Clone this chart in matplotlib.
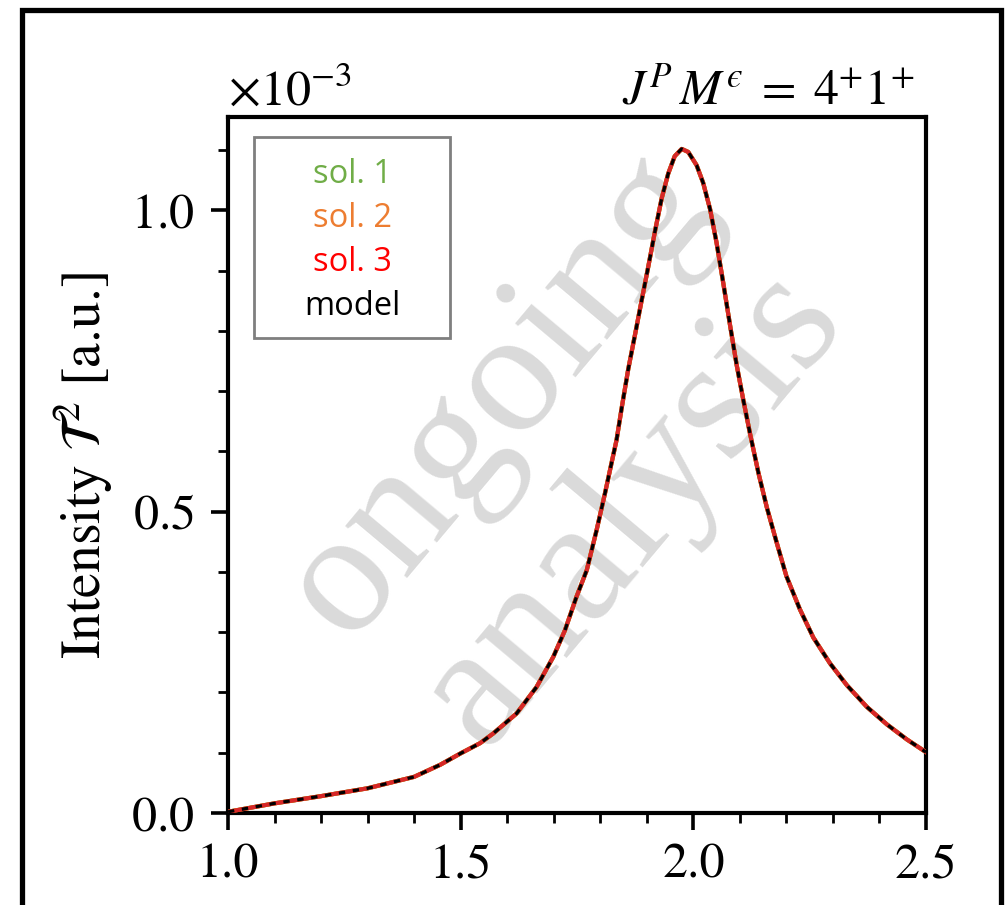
import matplotlib
matplotlib.use("Agg")
import matplotlib.pyplot as plt
from matplotlib.patches import Rectangle
from matplotlib.ticker import MultipleLocator, ScalarFormatter, FormatStrFormatter

# ---- data (intensity in units of 1e-3) ----
mass = [1.000, 1.100, 1.200, 1.300, 1.400, 1.456, 1.500, 1.542, 1.570, 1.620,
        1.663, 1.699, 1.724, 1.749, 1.771, 1.792, 1.810, 1.824, 1.835, 1.846,
        1.860, 1.875, 1.889, 1.903, 1.918, 1.932, 1.946, 1.960, 1.975, 1.989,
        2.007, 2.021, 2.036, 2.050, 2.064, 2.079, 2.093, 2.107, 2.122, 2.140,
        2.158, 2.179, 2.200, 2.229, 2.258, 2.294, 2.330, 2.373, 2.416, 2.459,
        2.500]
model = [0.002, 0.016, 0.028, 0.041, 0.060, 0.080, 0.099, 0.116, 0.132, 0.165,
         0.209, 0.259, 0.303, 0.359, 0.403, 0.469, 0.530, 0.580, 0.619, 0.672,
         0.736, 0.795, 0.851, 0.906, 0.967, 1.020, 1.061, 1.090, 1.102, 1.097,
         1.075, 1.046, 1.002, 0.946, 0.881, 0.809, 0.744, 0.687, 0.629, 0.564,
         0.507, 0.449, 0.393, 0.338, 0.291, 0.248, 0.212, 0.176, 0.147, 0.122,
         0.101]
sol1 = list(model)
sol2 = list(model)
sol3 = list(model)
scale = 1e-3

labels = ["sol. 1", "sol. 2", "sol. 3", "model"]
label_colors = ["#70ad47", "#ed7d31", "#ff0000", "#000000"]
title = r"$J^P\, M^{ϵ}\;=\;4^{+}1^{+}$"
ylabel = r"Intensity $\mathcal{T}^2$ [a.u.]"
watermark = "ongoing\nanalysis"

plt.rcParams["font.family"] = ["STIXGeneral", "DejaVu Sans"]
plt.rcParams["mathtext.fontset"] = "stix"

fig = plt.figure(figsize=(10.05, 9.05), dpi=100)
ax = fig.add_axes([228/1005, 1 - 813/905, (926-228)/1005, (813-117)/905])

# outer slide frame
fig.patches.append(Rectangle((22/1005, -0.05), (1001-22)/1005, 1.05 - 10/905,
                             transform=fig.transFigure, fill=False,
                             edgecolor="black", linewidth=3.8, zorder=0))

# watermark
ax.text(0.483, 0.52, watermark, transform=ax.transAxes, rotation=50,
        fontsize=126, color="#dadada", ha="center", va="center",
        family=["Liberation Serif", "DejaVu Serif"], zorder=0,
        rotation_mode="anchor", linespacing=1.12)

xs = mass
l1, = ax.plot(xs, [v*scale for v in sol1], color="#2ca02c", lw=3.0, zorder=2)
l2, = ax.plot(xs, [v*scale for v in sol2], color="#ff7f0e", lw=3.0, zorder=3)
l3, = ax.plot(xs, [v*scale for v in sol3], color="#d62728", lw=3.0, zorder=4)
l4, = ax.plot(xs, [v*scale for v in model], color="black", lw=2.3,
              ls=(0, (2.0, 2.4)), zorder=5)

ax.set_xlim(1.0, 2.5)
ax.set_ylim(0, 1.155e-3)
ax.xaxis.set_major_locator(MultipleLocator(0.5))
ax.xaxis.set_minor_locator(MultipleLocator(0.1))
ax.yaxis.set_major_locator(MultipleLocator(0.5e-3))
ax.yaxis.set_minor_locator(MultipleLocator(0.1e-3))
fmt = ScalarFormatter(useMathText=True)
fmt.set_powerlimits((-2, 2))
ax.yaxis.set_major_formatter(fmt)
ax.xaxis.set_major_formatter(FormatStrFormatter("%.1f"))

ax.tick_params(which="both", direction="out", top=False, right=False,
               labelsize=36, width=2.6, pad=10)
ax.tick_params(axis="y", which="both", pad=12)
ax.tick_params(which="major", length=12)
ax.tick_params(which="minor", length=7, width=2.0)
ax.yaxis.get_offset_text().set_fontsize(36)
ax.yaxis.OFFSETTEXTPAD = 9
for s in ax.spines.values():
    s.set_linewidth(3.0)

ax.set_ylabel(ylabel, fontsize=40, labelpad=12)
ax.set_title(title, loc="right", fontsize=36, pad=9, x=0.984)

# text-only legend box
ax.add_patch(Rectangle((0.0372, 0.6825), 0.318 - 0.0372, 0.9713 - 0.6825,
                       transform=ax.transAxes, facecolor="white",
                       edgecolor="#7f7f7f", linewidth=2.0, zorder=6))
for lab, col, yy in zip(labels, label_colors, [0.9056, 0.8424, 0.7792, 0.7155]):
    ax.text(0.1777, yy, lab, transform=ax.transAxes, color=col,
            ha="center", va="baseline", fontsize=23.5,
            family=["Open Sans", "DejaVu Sans"], zorder=7)

fig.savefig("out.png", dpi=100)
